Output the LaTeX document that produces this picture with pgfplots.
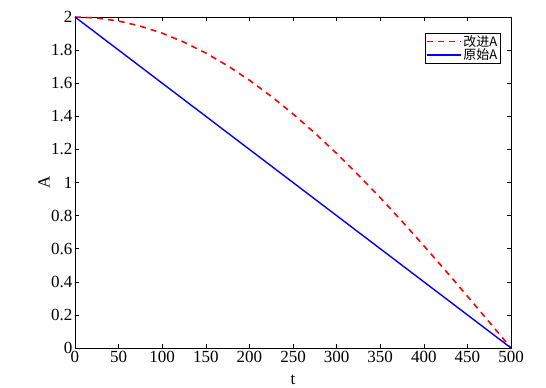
\documentclass[border=0pt]{standalone}
\usepackage{pgfplots}
\pgfplotsset{compat=1.18}
\usepackage{fontspec}
\setmainfont{Liberation Serif}
\newfontfamily\cjk{Noto Sans CJK SC}
\begin{document}
\begin{tikzpicture}
\useasboundingbox (-75pt,-40pt) rectangle (471pt,348pt);
\begin{axis}[
  anchor=south west, at={(0pt,0pt)},
  scale only axis, width=436pt, height=331pt,
  xmin=0, xmax=500, ymin=0, ymax=2,
  xtick={0,50,...,500},
  ytick={0,0.2,0.4,0.6,0.8,1,1.2,1.4,1.6,1.8,2},
  yticklabels={0,0.2,0.4,0.6,0.8,1,1.2,1.4,1.6,1.8,2},
  tick align=inside, major tick length=4pt,
  tick style={black, line width=0.6pt},
  axis line style={black, line width=0.6pt},
  /pgf/number format/assume math mode=true,
  ticklabel style={font=\fontsize{17}{19}\selectfont},
  yticklabel style={xshift=1pt},
  xticklabel style={yshift=0pt},
  xlabel={t}, ylabel={A},
  label style={font=\fontsize{17}{19}\selectfont},
  xlabel style={at={(axis description cs:0.5,0)}, anchor=center, yshift=-32pt},
  ylabel style={at={(axis description cs:-0.071,0.5)}, anchor=center, rotate=0},
  legend style={at={(0.975,0.953)}, anchor=north east, draw=black, line width=0.5pt,
    font=\cjk\fontsize{13}{13}\selectfont, inner sep=0.5pt, row sep=-3pt,
    cells={anchor=west}},
  legend image code/.code={\draw[#1] (0pt,0pt) -- (34pt,0pt);},
]
\addplot[red, dashed, line width=1.6pt, dash pattern=on 6pt off 5pt] coordinates {
(0,2.0000) (25,1.9938) (50,1.9754) (75,1.9447) (100,1.9021) (125,1.8478)
(150,1.7820) (175,1.7053) (200,1.6180) (225,1.5208) (250,1.4142) (275,1.2989)
(300,1.1756) (325,1.0450) (350,0.9080) (375,0.7654) (400,0.6180) (425,0.4669)
(450,0.3129) (475,0.1569) (500,0)};
\addlegendentry{改进A}
\addplot[blue, line width=1.4pt] coordinates {(0,2) (500,0)};
\addlegendentry{原始A}
\end{axis}
\end{tikzpicture}
\end{document}
